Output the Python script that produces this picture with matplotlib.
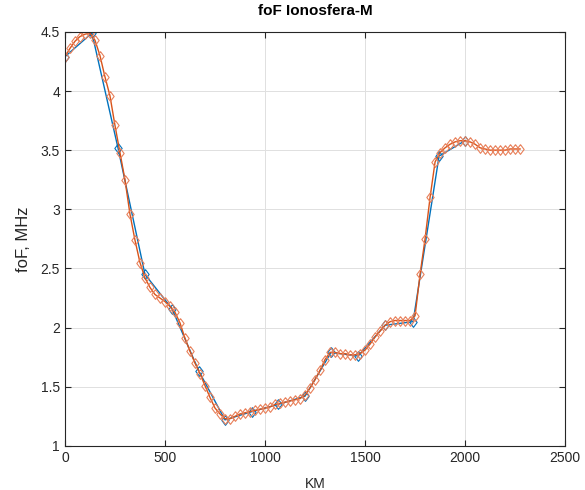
import numpy as np
import matplotlib
matplotlib.use("Agg")
import matplotlib.pyplot as plt
from matplotlib.ticker import FormatStrFormatter

# measured points (blue)
km_meas = [0, 135, 265, 400, 535, 670, 800, 935, 1065, 1200, 1330, 1465, 1600, 1740, 1870, 2000]
fof_meas = [4.29, 4.49, 3.52, 2.45, 2.16, 1.63, 1.22, 1.29, 1.35, 1.42, 1.79, 1.76, 2.02, 2.05, 3.45, 3.58]

# dense curve (orange), every 25 km
km_fit = list(range(0, 2276, 25))
fof_fit = [4.29, 4.36, 4.42, 4.46, 4.48, 4.49, 4.43, 4.30, 4.12, 3.96,
           3.71, 3.48, 3.25, 2.96, 2.74, 2.55, 2.42, 2.34, 2.28, 2.25,
           2.22, 2.18, 2.13, 2.04, 1.91, 1.80, 1.70, 1.61, 1.51, 1.41,
           1.32, 1.27, 1.23, 1.23, 1.25, 1.27, 1.28, 1.29, 1.30, 1.31,
           1.32, 1.33, 1.35, 1.36, 1.37, 1.38, 1.39, 1.40, 1.43, 1.49,
           1.56, 1.64, 1.73, 1.79, 1.79, 1.78, 1.78, 1.77, 1.77, 1.78,
           1.81, 1.86, 1.92, 1.97, 2.02, 2.05, 2.06, 2.06, 2.06, 2.06,
           2.10, 2.45, 2.75, 3.10, 3.40, 3.48, 3.52, 3.55, 3.57, 3.58,
           3.58, 3.57, 3.55, 3.52, 3.51, 3.50, 3.50, 3.50, 3.50, 3.51,
           3.51, 3.51]

plt.rcParams["font.family"] = ["Liberation Sans", "DejaVu Sans"]

# matlab-like diamond
diamond = [(0, 1), (0.75, 0), (0, -1), (-0.75, 0), (0, 1)]

fig = plt.figure(figsize=(5.85, 4.90), dpi=100)
ax = fig.add_axes([0.111, 0.09, 0.855, 0.845])

ax.plot(km_meas, fof_meas, color="#0072BD", lw=1.0, marker=diamond, ms=7,
        mfc="none", mec="#0072BD", mew=0.8)
ax.plot(km_fit, fof_fit, color="#D95319", lw=1.0, marker=diamond, ms=7,
        mfc="none", mec="#E8805A", mew=0.8)

ax.set_xlim(0, 2500)
ax.set_ylim(1, 4.5)
ax.set_xticks(np.arange(0, 2501, 500))
ax.set_yticks(np.arange(1, 4.51, 0.5))
ax.yaxis.set_major_formatter(FormatStrFormatter("%g"))
ax.grid(True, color="#e0e0e0", lw=0.7)
ax.set_axisbelow(True)
ax.tick_params(direction="in", top=True, right=True, labelsize=10,
               colors="#262626", length=4)
for s in ax.spines.values():
    s.set_color("#262626")
    s.set_linewidth(0.8)

ax.set_title("foF Ionosfera-M", fontsize=11, fontweight="bold", pad=12)
ax.set_xlabel("KM", fontsize=10, color="#262626", labelpad=9)
ax.set_ylabel("foF, MHz", fontsize=12, color="#262626", labelpad=7)

fig.savefig("out.png", dpi=100)
